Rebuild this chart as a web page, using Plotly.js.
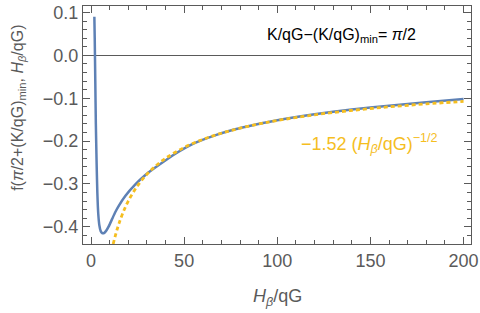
<!DOCTYPE html>
<html>
<head>
<meta charset="utf-8">
<script src="https://cdn.plot.ly/plotly-3.0.1.min.js"></script>
<style>html,body{margin:0;padding:0;background:#fff}#chart{width:480px;height:313px}</style>
</head>
<body>
<div id="chart"></div>
<script>
// Blue curve: f(pi/2+(K/qG)min, H/qG)
var blueX = [1.8, 2.0, 2.3, 2.6, 3.0, 3.4, 3.9, 4.5, 5.2, 6.0, 6.8, 8, 9.5, 11.3, 13, 14.9, 18.4, 23.8, 29.2, 36.4, 45.3, 55, 65, 75, 85, 100, 120, 140, 160, 180, 200];
var blueY = [0.09, 0.04, -0.06, -0.16, -0.25, -0.32, -0.37, -0.397, -0.41, -0.4145, -0.415, -0.410, -0.399, -0.382, -0.366, -0.351, -0.328, -0.301, -0.279, -0.256, -0.2295, -0.206, -0.189, -0.1755, -0.165, -0.1515, -0.1375, -0.1265, -0.1175, -0.1095, -0.102];
// Orange dashed asymptote: -1.52 (H/qG)^(-1/2)
var fitX = [11.9, 13, 14, 15, 17, 20, 25, 30, 35, 40, 50, 60, 70, 80, 90, 100, 120, 140, 160, 180, 200];
var fitY = [-0.440, -0.4216, -0.4062, -0.3925, -0.3687, -0.3399, -0.3040, -0.2775, -0.2569, -0.2403, -0.2150, -0.1962, -0.1817, -0.1699, -0.1602, -0.1520, -0.1388, -0.1285, -0.1202, -0.1133, -0.1075];
var xTicks = [0, 50, 100, 150, 200];
var yTicks = [0.1, 0.0, -0.1, -0.2, -0.3, -0.4];
var yTickText = ['0.1', '0.0', '\u22120.1', '\u22120.2', '\u22120.3', '\u22120.4'];

var blue = '#5E81B5', gold = '#F5BE1F', gray = '#5a5a5a';
var font = 'Liberation Sans, Arial, sans-serif';

var traces = [
  {x: blueX, y: blueY, mode: 'lines', line: {color: blue, width: 2.5, shape: 'spline', smoothing: 0.5}, hoverinfo: 'skip'},
  {x: fitX, y: fitY, mode: 'lines', line: {color: gold, width: 2.8, dash: '4px,3px', shape: 'spline'}, hoverinfo: 'skip'}
];

var axisCommon = {
  showgrid: false, showline: true, linecolor: gray, linewidth: 1, mirror: 'ticks',
  ticks: 'inside', ticklen: 7, tickcolor: gray, tickwidth: 1,
  tickfont: {family: font, size: 18, color: gray}
};

var layout = {
  width: 480, height: 313,
  margin: {l: 83, r: 9, t: 6, b: 69},
  paper_bgcolor: '#fff', plot_bgcolor: '#fff',
  showlegend: false,
  xaxis: Object.assign({}, axisCommon, {
    range: [-4.3, 204], tickvals: xTicks, ticktext: xTicks.map(String), zeroline: false,
    minor: {dtick: 10, tick0: 0, ticks: 'inside', ticklen: 4, tickcolor: gray}
  }),
  yaxis: Object.assign({}, axisCommon, {
    range: [-0.44, 0.115], tickvals: yTicks, ticktext: yTickText,
    zeroline: true, zerolinecolor: gray, zerolinewidth: 1,
    minor: {dtick: 0.02, tick0: 0, ticks: 'inside', ticklen: 4, tickcolor: gray}
  }),
  annotations: [
    {xref: 'x', yref: 'y', x: 134.4, y: 0.046, showarrow: false, xanchor: 'center', yanchor: 'middle',
     text: 'K/qG\u2212(K/qG)<sub>min</sub>= <i>\u03c0</i>/2', font: {family: font, size: 16, color: '#000'}},
    {xref: 'x', yref: 'y', x: 149.5, y: -0.205, showarrow: false, xanchor: 'center', yanchor: 'middle',
     text: '\u22121.52 (<i>H<sub>\u03b2</sub></i>/qG)<sup>\u22121/2</sup>', font: {family: font, size: 18, color: gold}},
    {xref: 'paper', yref: 'paper', x: -0.165, y: 0.572, showarrow: false, textangle: -90, xanchor: 'center', yanchor: 'middle',
     text: 'f(<i>\u03c0</i>/2+(K/qG)<sub>min</sub>, <i>H<sub>\u03b2</sub></i>/qG)', font: {family: font, size: 16, color: gray}},
    {xref: 'paper', yref: 'paper', x: 0.5, y: -0.225, showarrow: false, xanchor: 'center', yanchor: 'middle',
     text: '<i>H<sub>\u03b2</sub></i>/qG', font: {family: font, size: 18, color: gray}}
  ]
};

Plotly.newPlot('chart', traces, layout, {staticPlot: true, displayModeBar: false});
</script>
</body>
</html>
